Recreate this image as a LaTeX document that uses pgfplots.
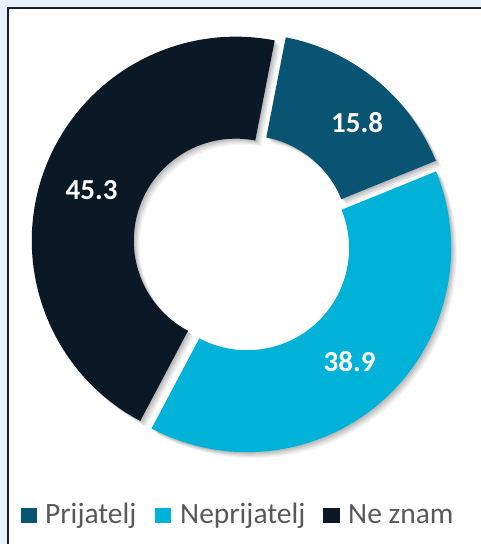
\documentclass[border=0pt]{standalone}
\usepackage{fontspec}
\setmainfont{Carlito}
\usepackage{pgfplots}
\usepackage{pgfplotstable}
\pgfplotsset{compat=1.18}

\definecolor{c0}{RGB}{10,84,115}
\definecolor{c1}{RGB}{0,178,216}
\definecolor{c2}{RGB}{11,24,38}
\definecolor{legtext}{RGB}{89,89,89}
\definecolor{bgblue}{RGB}{230,242,251}
\definecolor{framec}{RGB}{30,30,30}

% share of answers, label offsets in px
\pgfplotstableread[col sep=comma]{
label,value,ldx,ldy
Prijatelj,15.8,13,3
Neprijatelj,38.9,0,0
Ne znam,45.3,0,0
}\donut

\newcommand\startang{79}
\newcommand\Rout{204}
\newcommand\Rin{102}
\newcommand\Rw{102}
\newcommand\expl{7}
\newcommand\cx{242.4}
\newcommand\cy{243}

% angles and offsets of the slices, clockwise from \startang
\xdef\cum{0}
\foreach \i in {0,1,2}{%
  \pgfplotstablegetelem{\i}{value}\of\donut \let\v\pgfplotsretval
  \expandafter\xdef\csname val\i\endcsname{\v}%
  \pgfplotstablegetelem{\i}{ldx}\of\donut \let\dx\pgfplotsretval
  \pgfplotstablegetelem{\i}{ldy}\of\donut \let\dy\pgfplotsretval
  \pgfplotstablegetelem{\i}{label}\of\donut
  \expandafter\xdef\csname lab\i\endcsname{\pgfplotsretval}%
  \pgfmathsetmacro\sa{\startang-3.6*\cum}%
  \pgfmathsetmacro\ea{\sa-3.6*\v}%
  \pgfmathsetmacro\ma{(\sa+\ea)/2}%
  \pgfmathsetmacro\ox{\cx+\expl*cos(\ma)}%
  \pgfmathsetmacro\oy{\cy-\expl*sin(\ma)}%
  \pgfmathsetmacro\lx{\ox+0.5*(\Rout+\Rin)*cos(\ma)+\dx}%
  \pgfmathsetmacro\ly{\oy-0.5*(\Rout+\Rin)*sin(\ma)+\dy}%
  \pgfmathsetmacro\newcum{\cum+\v}%
  \expandafter\xdef\csname sa\i\endcsname{\sa}%
  \expandafter\xdef\csname ea\i\endcsname{\ea}%
  \expandafter\xdef\csname ox\i\endcsname{\ox}%
  \expandafter\xdef\csname oy\i\endcsname{\oy}%
  \expandafter\xdef\csname lx\i\endcsname{\lx}%
  \expandafter\xdef\csname ly\i\endcsname{\ly}%
  \xdef\cum{\newcum}%
}

\newcommand\slice[2]{%
  \fill[#2] (axis cs:\csname ox#1\endcsname,\csname oy#1\endcsname)
    ++(\csname sa#1\endcsname:\Rout pt)
    arc[start angle=\csname sa#1\endcsname, end angle=\csname ea#1\endcsname, radius=\Rout pt]
    -- ++(\csname ea#1\endcsname+180:\Rw pt)
    arc[start angle=\csname ea#1\endcsname, end angle=\csname sa#1\endcsname, radius=\Rin pt]
    -- cycle;}
\newcommand\shadow[1]{%
  \slice{#1}{black, opacity=0.07, shift={(1.2pt,-1.2pt)}}
  \slice{#1}{black, opacity=0.07, shift={(2.4pt,-2.4pt)}}
  \slice{#1}{black, opacity=0.06, shift={(3.6pt,-3.6pt)}}
  \slice{#1}{black, opacity=0.05, shift={(4.8pt,-4.8pt)}}
  \slice{#1}{black, opacity=0.04, shift={(6pt,-6pt)}}}

\begin{document}
\begin{tikzpicture}
\begin{axis}[
    hide axis,
    scale only axis,
    width=481pt, height=544pt,
    xmin=0, xmax=481, ymin=0, ymax=544,
    y dir=reverse,
    clip=false,
]
  % background and chart frame
  \fill[bgblue] (axis cs:0,0) rectangle (axis cs:481,544);
  \fill[white, draw=framec, line width=2pt] (axis cs:7.5,7.5) rectangle (axis cs:500,570);

  \shadow{0}\shadow{1}\shadow{2}
  \slice{0}{c0}
  \slice{1}{c1}
  \slice{2}{c2}

  \pgfplotsinvokeforeach{0,1,2}{
    \node[text=white, inner sep=0, font=\fontsize{29}{30}\selectfont\bfseries]
      at (axis cs:\csname lx#1\endcsname,\csname ly#1\endcsname) {\csname val#1\endcsname};
  }

  % legend
  \fill[c0] (axis cs:21,508) rectangle (axis cs:37,523);
  \fill[c1] (axis cs:155,508) rectangle (axis cs:171,523);
  \fill[c2] (axis cs:323,508) rectangle (axis cs:340,523);
  \node[anchor=base west, inner sep=0, text=legtext, font=\fontsize{29.5}{30}\selectfont]
    at (axis cs:45,523) {\csname lab0\endcsname};
  \node[anchor=base west, inner sep=0, text=legtext, font=\fontsize{29.5}{30}\selectfont]
    at (axis cs:180,523) {\csname lab1\endcsname};
  \node[anchor=base west, inner sep=0, text=legtext, font=\fontsize{29.5}{30}\selectfont]
    at (axis cs:348,523) {\csname lab2\endcsname};
\end{axis}
\pgfresetboundingbox
\path[use as bounding box] (0,0) rectangle (481pt,544pt);
\end{tikzpicture}
\end{document}
